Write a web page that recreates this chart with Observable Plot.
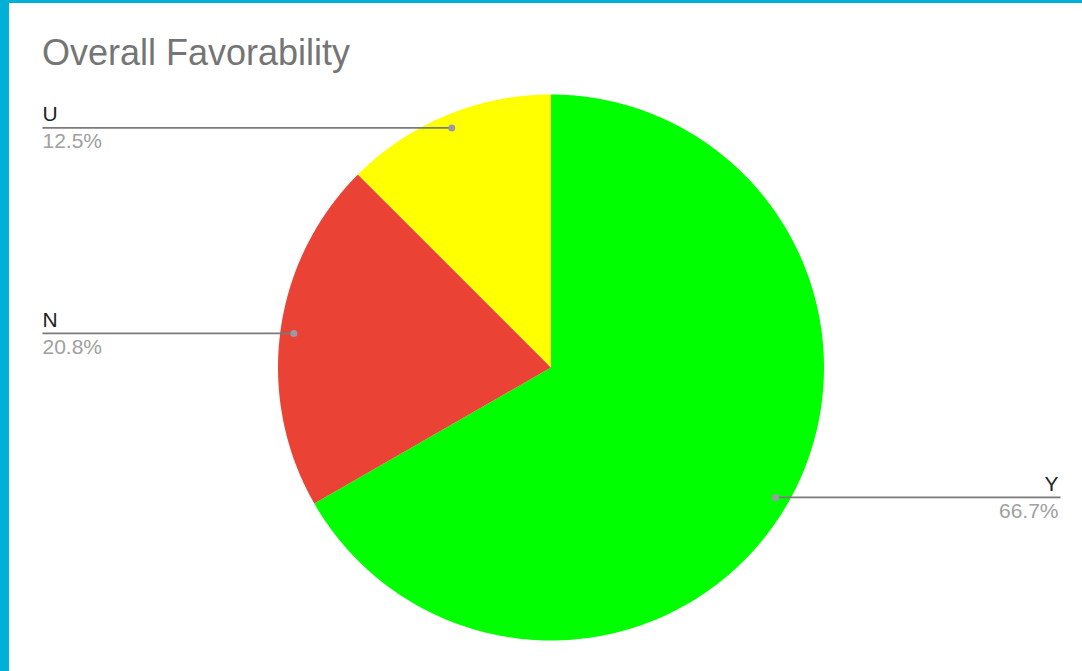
<!DOCTYPE html>
<html>
<head>
<meta charset="utf-8">
<script src="https://cdn.jsdelivr.net/npm/d3@7"></script>
<script src="https://cdn.jsdelivr.net/npm/@observablehq/plot@0.6"></script>
<style>
  html, body { margin: 0; padding: 0; background: #fff; }
  #wrap { position: relative; width: 1082px; height: 671px; overflow: hidden; background: #fff; font-family: "Liberation Sans", Arial, sans-serif; }
  #bl { position: absolute; left: 0; top: 0; width: 9px; height: 671px; background: #00b0d6; }
  #bt { position: absolute; left: 0; top: 0; width: 1082px; height: 3px; background: #00b0d6; }
  #title { position: absolute; left: 42px; top: 30px; margin: 0; font-size: 36px; font-weight: normal; color: #757575; line-height: 46px; white-space: nowrap; }
  #chart { position: absolute; left: 0; top: 0; }
</style>
</head>
<body>
<div id="wrap">
  <div id="chart"></div>
  <div id="bl"></div>
  <div id="bt"></div>
  <h1 id="title">Overall Favorability</h1>
</div>
<script>
// Data
const categories = ["Y", "N", "U"];
const values = [66.7, 20.8, 12.5];
const labels = ["66.7%", "20.8%", "12.5%"];
const colors = ["#00ff00", "#ea4335", "#ffff00"];

// Geometry (pixel layout)
const W = 1082, H = 671;
const cx = 550.5, cy = 367, R = 273;
const X = d3.scaleLinear([-1, 1], [cx - R, cx + R]);
const Y = d3.scaleLinear([-1, 1], [cy + R, cy - R]);

const total = d3.sum(values);
const slices = [];
const outlines = [];
let acc = 0;
categories.forEach((c, i) => {
  const a0 = acc / total * 2 * Math.PI;
  acc += values[i];
  const a1 = acc / total * 2 * Math.PI;
  const n = Math.max(2, Math.ceil((a1 - a0) / (Math.PI / 360)));
  outlines.push({cat: c, x: 0, y: 0, k: -1});
  for (let j = 0; j <= n; j++) {
    const a = a0 + (a1 - a0) * j / n;
    outlines.push({cat: c, x: Math.sin(a), y: Math.cos(a), k: j});
  }
  outlines.push({cat: c, x: 0, y: 0, k: n + 1});
  const am = (a0 + a1) / 2;
  const dx = 0.95 * Math.sin(am), dy = 0.95 * Math.cos(am);
  const left = dx < 0;
  slices.push({
    cat: c, label: labels[i],
    dx, dy, left,
    ex: left ? X.invert(42) : X.invert(1060),
    tx: left ? X.invert(42) : X.invert(1058)
  });
});

const chart = Plot.plot({
  width: W, height: H,
  margin: 0,
  x: {domain: [-1, 1], range: [cx - R, cx + R], axis: null},
  y: {domain: [-1, 1], range: [cy + R, cy - R], axis: null},
  color: {domain: categories, range: colors},
  style: {background: "transparent", fontFamily: "'Liberation Sans', Arial, sans-serif"},
  marks: [
    Plot.line(outlines, {x: "x", y: "y", z: "cat", fill: "cat", stroke: "none", curve: "linear"}),
    Plot.link(slices, {x1: "dx", y1: "dy", x2: "ex", y2: "dy", stroke: "#7a7a7a", strokeWidth: 1.6}),
    Plot.dot(slices, {x: "dx", y: "dy", r: 3.5, fill: "#9a9aa6", stroke: "none"}),
    Plot.text(slices.filter(d => d.left), {x: "tx", y: "dy", text: "cat", textAnchor: "start", lineAnchor: "bottom", dy: -6.5, fontSize: 21, fill: "#222"}),
    Plot.text(slices.filter(d => d.left), {x: "tx", y: "dy", text: "label", textAnchor: "start", lineAnchor: "top", dy: 5.5, fontSize: 21, fill: "#a0a0a0"}),
    Plot.text(slices.filter(d => !d.left), {x: "tx", y: "dy", text: "cat", textAnchor: "end", lineAnchor: "bottom", dy: -6.5, fontSize: 21, fill: "#222"}),
    Plot.text(slices.filter(d => !d.left), {x: "tx", y: "dy", text: "label", textAnchor: "end", lineAnchor: "top", dy: 5.5, fontSize: 21, fill: "#a0a0a0"})
  ]
});
document.getElementById("chart").appendChild(chart);
</script>
</body>
</html>
